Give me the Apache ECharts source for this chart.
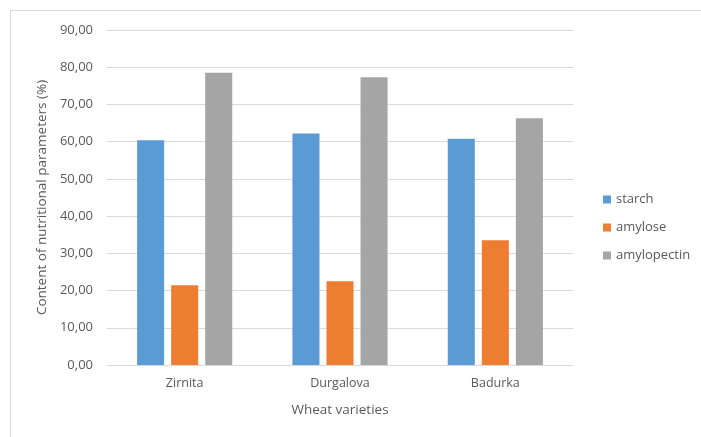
<!DOCTYPE html>
<html>
<head>
<meta charset="utf-8">
<script src="https://cdn.jsdelivr.net/npm/echarts@6/dist/echarts.min.js"></script>
<style>
html,body{margin:0;padding:0;background:#fff;}
#frame{position:absolute;left:10px;top:10px;width:700px;height:440px;border:1px solid #d9d9d9;box-sizing:border-box;}
#chart{position:absolute;left:0;top:0;width:701px;height:437px;}
</style>
</head>
<body>
<div id="frame"></div>
<div id="chart"></div>
<script>
const categories = ["Zirnita", "Durgalova", "Badurka"];
const starch = [60.4, 62.2, 60.8];
const amylose = [21.4, 22.5, 33.5];
const amylopectin = [78.5, 77.3, 66.3];
const seriesNames = ["starch", "amylose", "amylopectin"];
const colors = ["#5B9BD5", "#ED7D31", "#A5A5A5"];
const FONT = "Open Sans";
const TXT = "#595959";

const chart = echarts.init(document.getElementById('chart'));
const mk = (name, data, i) => ({
  name, type: 'bar', data,
  barWidth: '17.4%', barGap: '26%',
  itemStyle: { color: colors[i] }
});
chart.setOption({
  animation: false,
  textStyle: { fontFamily: FONT },
  grid: { left: 107, right: 128, top: 30, bottom: 72 },
  legend: {
    orient: 'vertical', left: 598, top: 188,
    itemWidth: 8, itemHeight: 8, itemGap: 15,
    icon: 'rect',
    textStyle: { color: TXT, fontSize: 13, fontFamily: FONT },
    data: seriesNames
  },
  xAxis: {
    type: 'category', data: categories,
    axisLine: { lineStyle: { color: '#d9d9d9' } },
    axisTick: { show: false },
    axisLabel: { color: TXT, fontSize: 12.5, margin: 12 },
    name: 'Wheat varieties', nameLocation: 'middle', nameGap: 38,
    nameTextStyle: { color: TXT, fontSize: 13.5 }
  },
  yAxis: {
    type: 'value', min: 0, max: 90, interval: 10,
    axisLabel: { color: TXT, fontSize: 13, margin: 14, formatter: v => v.toFixed(2).replace('.', ',') },
    splitLine: { lineStyle: { color: '#d9d9d9' } },
    axisLine: { show: false }, axisTick: { show: false },
    name: 'Content of nutritional parameters (%)', nameLocation: 'middle', nameGap: 56,
    nameTextStyle: { color: TXT, fontSize: 13.5 }
  },
  series: [mk(seriesNames[0], starch, 0), mk(seriesNames[1], amylose, 1), mk(seriesNames[2], amylopectin, 2)]
});
</script>
</body>
</html>
